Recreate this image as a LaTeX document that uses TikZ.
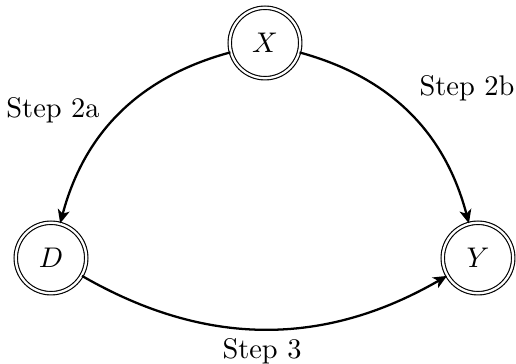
\documentclass[tikz,border=0pt]{standalone}
\usetikzlibrary{arrows.meta}
\begin{document}
\begin{tikzpicture}[x=0.352pt,y=-0.352pt,
  statenode/.style={circle,draw,double,double distance=0.8pt,line width=0.4pt,minimum size=24.8pt,inner sep=0pt},
  edge/.style={-{Stealth[length=4.8pt,width=4.2pt,inset=1.3pt]},thick},
  lab/.style={inner sep=0pt}]
\useasboundingbox (0,0) rectangle (516,364);
\node[statenode] (X) at (265,43) {$X$};
\node[statenode] (D) at (51,258) {$D$};
\node[statenode] (Y) at (478,258) {$Y$};
\draw[edge] (X) to[bend right=30] (D);
\draw[edge] (X) to[bend left=30] (Y);
\draw[edge] (D) to[bend right=30] (Y);
\node[lab] (s2a) at (53,110) {Step 2a};
\node[lab] (s2b) at (467,88) {Step 2b};
\node[lab] (s3) at (262,351) {Step 3};
\end{tikzpicture}
\end{document}
